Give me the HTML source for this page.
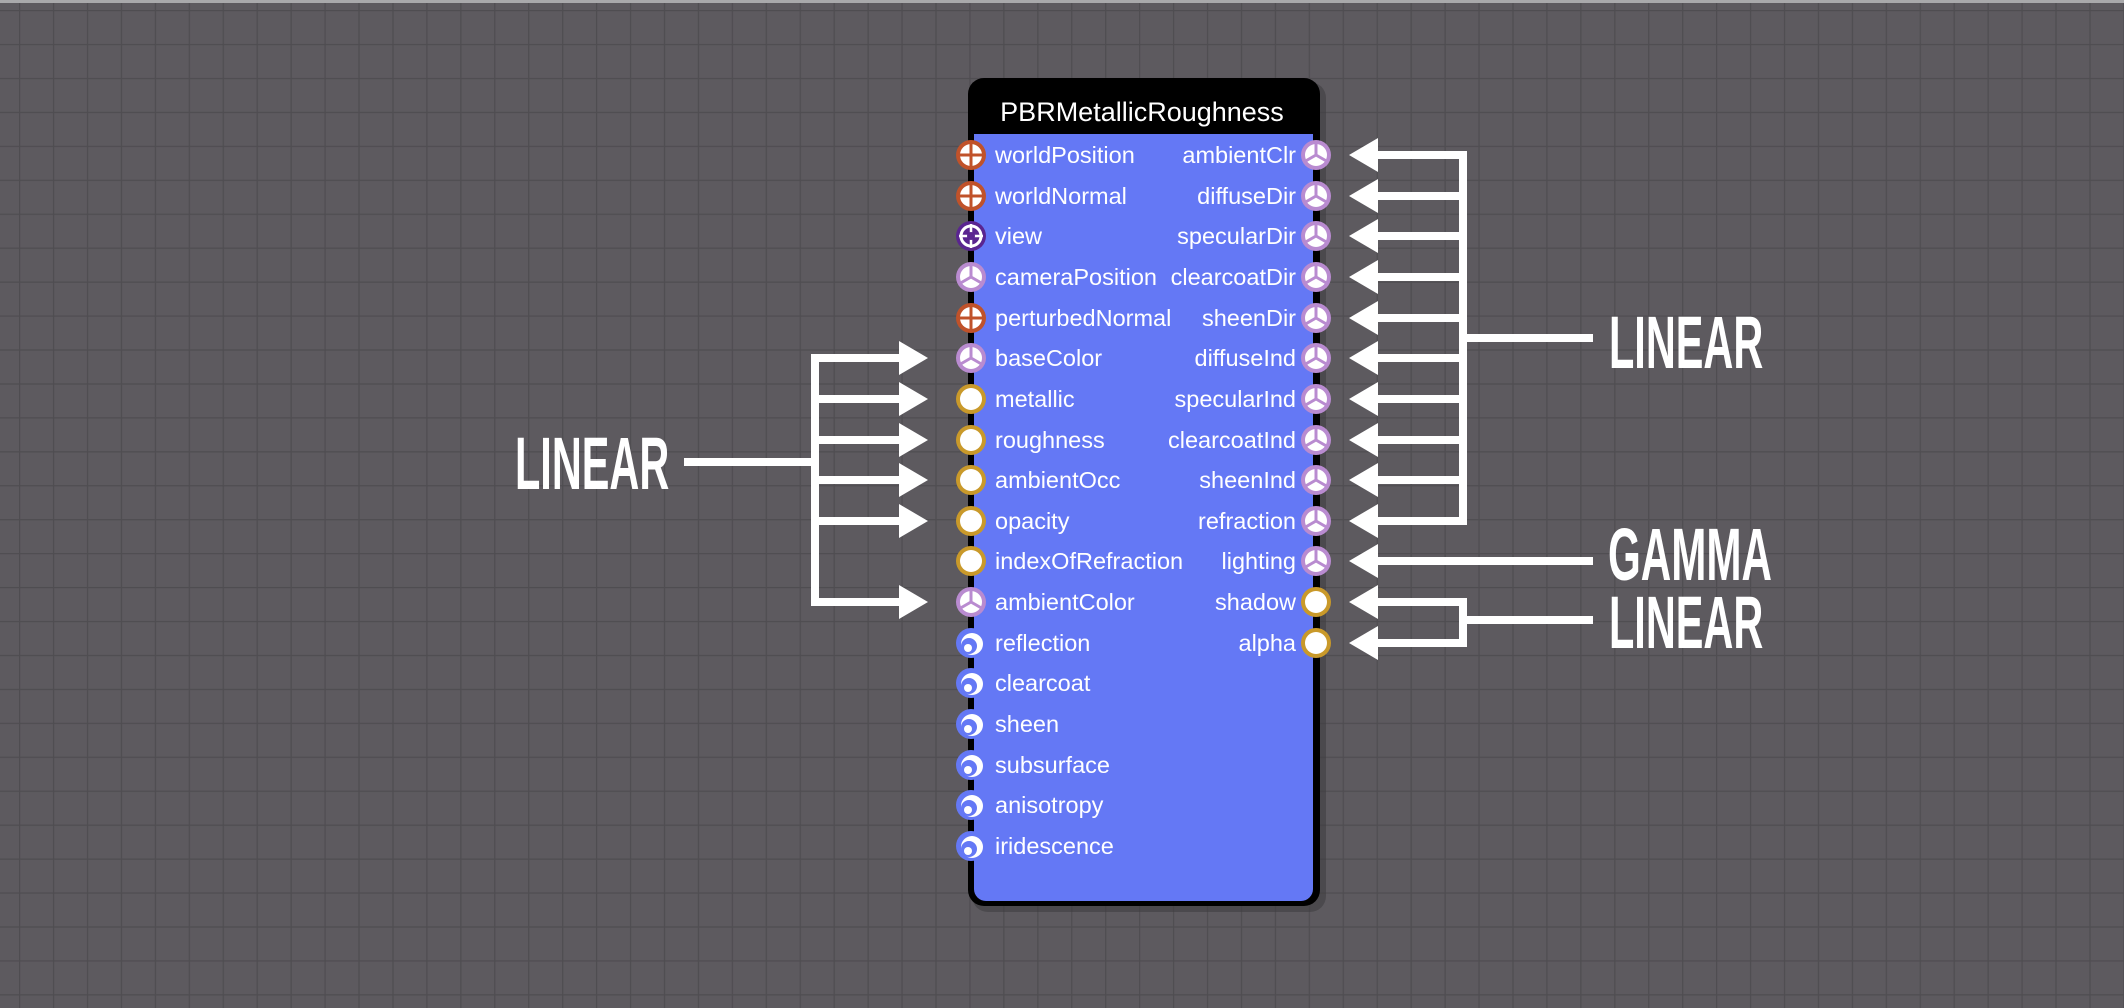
<!DOCTYPE html>
<html><head><meta charset="utf-8"><style>
html,body{margin:0;padding:0;width:2124px;height:1008px;overflow:hidden;background:#5d5a5f;}
svg{display:block}
.lbl{font-family:"Liberation Sans",Arial,sans-serif;font-size:23.5px;fill:#fff;}
.big{font-family:"Liberation Sans",Arial,sans-serif;font-weight:bold;font-size:74px;fill:#fff;}
</style></head><body>
<svg width="2124" height="1008" xmlns="http://www.w3.org/2000/svg">
<defs>
<pattern id="g" x="19" y="10" width="33.94" height="33.94" patternUnits="userSpaceOnUse">
<path d="M0 0V33.94M0 0H33.94" stroke="#4f4d51" stroke-width="2.5" fill="none"/>
</pattern>
<g id="cross"><circle r="15" fill="#c0522a"/><circle r="11" fill="#fff"/><path d="M-12 0H12M0-12V12" stroke="#c0522a" stroke-width="3"/></g>
<g id="view"><circle r="15" fill="#5a2590"/><circle r="10" fill="none" stroke="#fff" stroke-width="3"/><path d="M-12 0H12M0-12V12" stroke="#fff" stroke-width="2.5"/><circle r="4" fill="#5a2590"/></g>
<g id="tri"><circle r="15" fill="#b98bd0"/><circle r="11" fill="#fff"/><path d="M0 0V-12M0 0L10.4 6M0 0L-10.4 6" stroke="#b98bd0" stroke-width="3"/></g>
<g id="gold"><circle r="15" fill="#c9992a"/><circle r="11" fill="#fff"/></g>
<g id="sw"><circle r="15" fill="#6478f5"/><circle cx="1" cy="1" r="11" fill="#fff"/><circle cx="-2" cy="3" r="8" fill="#6478f5"/><circle cx="-3" cy="5" r="4" fill="#fff"/></g>
</defs>
<rect width="2124" height="1008" fill="#5d5a5f"/>
<rect width="2124" height="1008" fill="url(#g)"/>
<rect x="0" y="0" width="2124" height="3" fill="#a9a9ab"/>
<rect x="972" y="82" width="354" height="830" rx="16" fill="#3f3d41" opacity="0.6"/>
<rect x="968" y="78" width="352" height="828" rx="16" fill="#000"/>
<rect x="974" y="134" width="339" height="767" rx="12" fill="#6478f5"/>
<rect x="974" y="134" width="339" height="20" fill="#6478f5"/>
<text x="1142" y="121" text-anchor="middle" font-family="Liberation Sans,Arial,sans-serif" font-size="27" fill="#fff">PBRMetallicRoughness</text>
<g class="lbl">
<text x="995" y="163">worldPosition</text>
<text x="995" y="204">worldNormal</text>
<text x="995" y="244">view</text>
<text x="995" y="285">cameraPosition</text>
<text x="995" y="326">perturbedNormal</text>
<text x="995" y="366">baseColor</text>
<text x="995" y="407">metallic</text>
<text x="995" y="448">roughness</text>
<text x="995" y="488">ambientOcc</text>
<text x="995" y="529">opacity</text>
<text x="995" y="569">indexOfRefraction</text>
<text x="995" y="610">ambientColor</text>
<text x="995" y="651">reflection</text>
<text x="995" y="691">clearcoat</text>
<text x="995" y="732">sheen</text>
<text x="995" y="773">subsurface</text>
<text x="995" y="813">anisotropy</text>
<text x="995" y="854">iridescence</text>
</g>
<g class="lbl" text-anchor="end">
<text x="1296" y="163">ambientClr</text>
<text x="1296" y="204">diffuseDir</text>
<text x="1296" y="244">specularDir</text>
<text x="1296" y="285">clearcoatDir</text>
<text x="1296" y="326">sheenDir</text>
<text x="1296" y="366">diffuseInd</text>
<text x="1296" y="407">specularInd</text>
<text x="1296" y="448">clearcoatInd</text>
<text x="1296" y="488">sheenInd</text>
<text x="1296" y="529">refraction</text>
<text x="1296" y="569">lighting</text>
<text x="1296" y="610">shadow</text>
<text x="1296" y="651">alpha</text>
</g>
<use href="#cross" x="971" y="155"/>
<use href="#cross" x="971" y="196"/>
<use href="#view" x="971" y="236"/>
<use href="#tri" x="971" y="277"/>
<use href="#cross" x="971" y="318"/>
<use href="#tri" x="971" y="358"/>
<use href="#gold" x="971" y="399"/>
<use href="#gold" x="971" y="440"/>
<use href="#gold" x="971" y="480"/>
<use href="#gold" x="971" y="521"/>
<use href="#gold" x="971" y="561"/>
<use href="#tri" x="971" y="602"/>
<use href="#sw" x="971" y="643"/>
<use href="#sw" x="971" y="683"/>
<use href="#sw" x="971" y="724"/>
<use href="#sw" x="971" y="765"/>
<use href="#sw" x="971" y="805"/>
<use href="#sw" x="971" y="846"/>
<use href="#tri" x="1316" y="155"/>
<use href="#tri" x="1316" y="196"/>
<use href="#tri" x="1316" y="236"/>
<use href="#tri" x="1316" y="277"/>
<use href="#tri" x="1316" y="318"/>
<use href="#tri" x="1316" y="358"/>
<use href="#tri" x="1316" y="399"/>
<use href="#tri" x="1316" y="440"/>
<use href="#tri" x="1316" y="480"/>
<use href="#tri" x="1316" y="521"/>
<use href="#tri" x="1316" y="561"/>
<use href="#gold" x="1316" y="602"/>
<use href="#gold" x="1316" y="643"/>
<g fill="#fff" stroke="none">
<rect x="684" y="458" width="131" height="8"/>
<rect x="811" y="354" width="8" height="252"/>
<rect x="811" y="354" width="90" height="8"/><polygon points="899,341 928,358 899,375"/>
<rect x="811" y="395" width="90" height="8"/><polygon points="899,382 928,399 899,416"/>
<rect x="811" y="436" width="90" height="8"/><polygon points="899,423 928,440 899,457"/>
<rect x="811" y="476" width="90" height="8"/><polygon points="899,463 928,480 899,497"/>
<rect x="811" y="517" width="90" height="8"/><polygon points="899,504 928,521 899,538"/>
<rect x="811" y="598" width="90" height="8"/><polygon points="899,585 928,602 899,619"/>
</g>
<g fill="#fff">
<rect x="1459" y="151" width="8" height="374"/>
<rect x="1463" y="334" width="130" height="8"/>
<rect x="1376" y="151" width="87" height="8"/><polygon points="1378,138 1349,155 1378,172"/>
<rect x="1376" y="192" width="87" height="8"/><polygon points="1378,179 1349,196 1378,213"/>
<rect x="1376" y="232" width="87" height="8"/><polygon points="1378,219 1349,236 1378,253"/>
<rect x="1376" y="273" width="87" height="8"/><polygon points="1378,260 1349,277 1378,294"/>
<rect x="1376" y="314" width="87" height="8"/><polygon points="1378,301 1349,318 1378,335"/>
<rect x="1376" y="354" width="87" height="8"/><polygon points="1378,341 1349,358 1378,375"/>
<rect x="1376" y="395" width="87" height="8"/><polygon points="1378,382 1349,399 1378,416"/>
<rect x="1376" y="436" width="87" height="8"/><polygon points="1378,423 1349,440 1378,457"/>
<rect x="1376" y="476" width="87" height="8"/><polygon points="1378,463 1349,480 1378,497"/>
<rect x="1376" y="517" width="87" height="8"/><polygon points="1378,504 1349,521 1378,538"/>
<rect x="1376" y="557" width="217" height="8"/><polygon points="1378,544 1349,561 1378,578"/>
<rect x="1376" y="598" width="91" height="8"/><polygon points="1378,585 1349,602 1378,619"/>
<rect x="1376" y="639" width="91" height="8"/><polygon points="1378,626 1349,643 1378,660"/>
<rect x="1459" y="598" width="8" height="49"/>
<rect x="1463" y="616" width="130" height="8"/>
</g>
<text class="big" transform="translate(515,489) scale(0.56,1)">LINEAR</text>
<text class="big" transform="translate(1609,368) scale(0.56,1)">LINEAR</text>
<text class="big" transform="translate(1608,580) scale(0.57,1)">GAMMA</text>
<text class="big" transform="translate(1609,648) scale(0.56,1)">LINEAR</text>
</svg>
</body></html>
